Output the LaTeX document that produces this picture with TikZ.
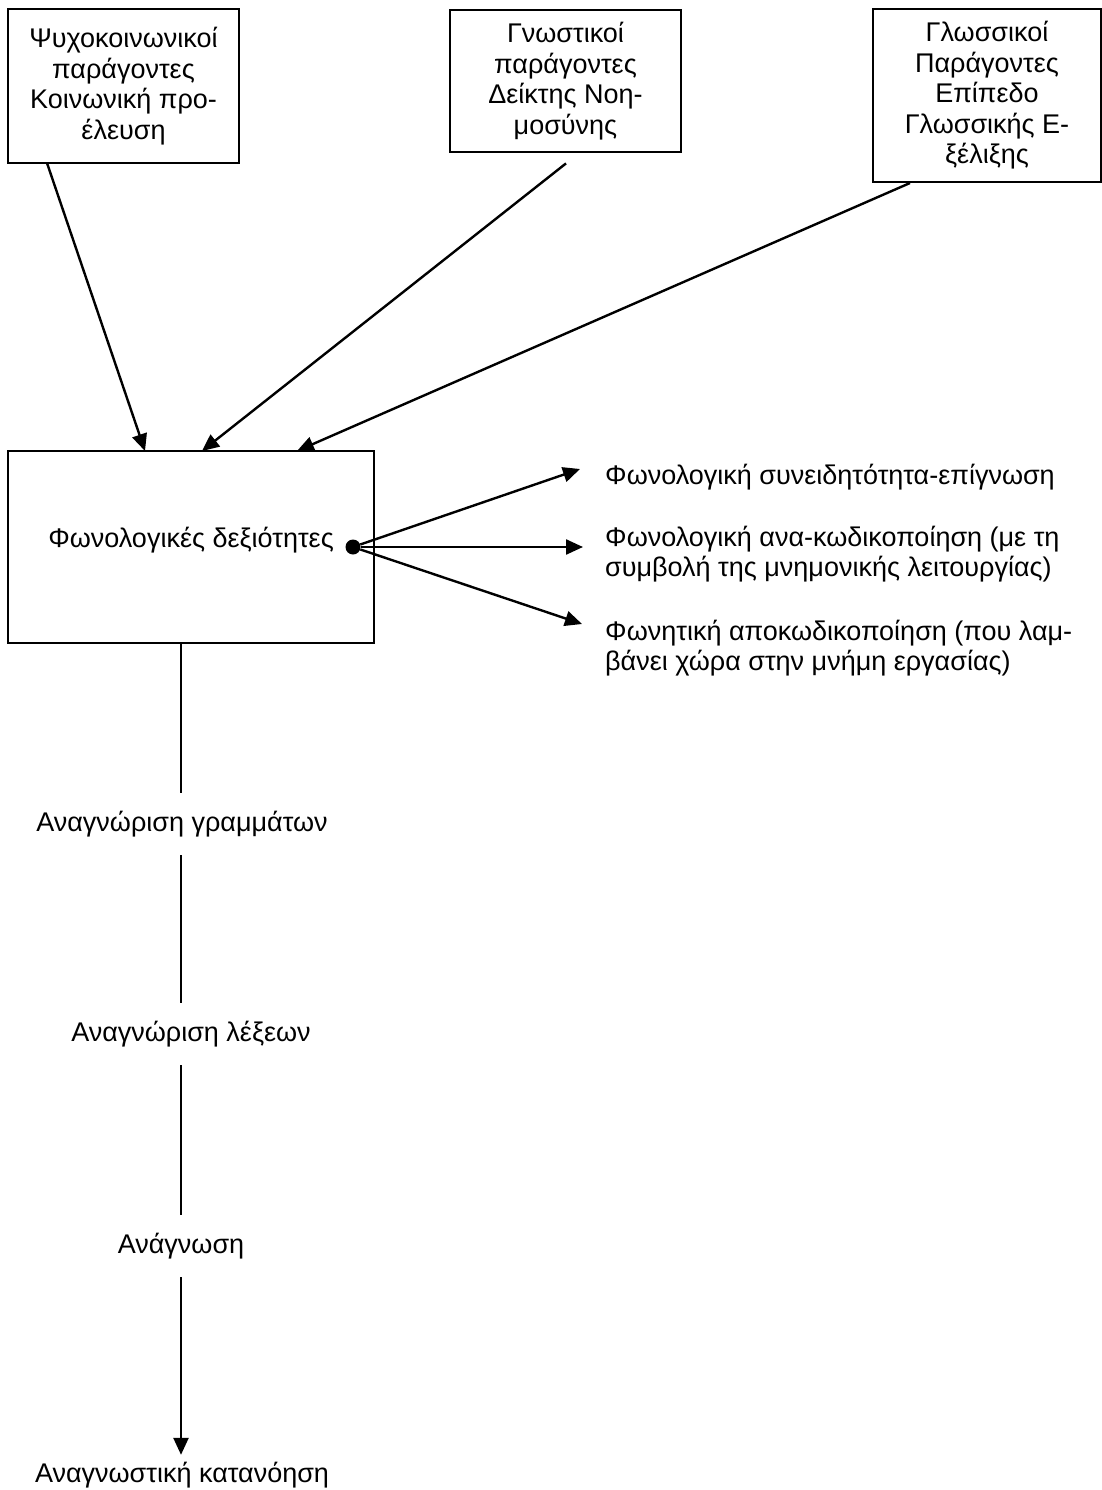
\documentclass[tikz,border=0pt]{standalone}
\usepackage{fontspec}
\setmainfont{Liberation Sans}
\usetikzlibrary{arrows.meta}

\tikzset{
  factor/.style={draw, line width=2.8pt, align=center, inner sep=0pt},
  stagelabel/.style={inner sep=0pt, minimum height=62pt},
  outcome/.style={anchor=west, align=left, inner sep=0pt},
  flow/.style={line width=2.4pt, -{Triangle[length=17pt,width=15pt]}},
}

\begin{document}
\begin{tikzpicture}[x=1pt, y=-1pt, font=\fontsize{27}{30.5}\selectfont]
  \useasboundingbox (0,0) rectangle (1101,1490);
  % factors on top
  \node[factor, minimum width=231, minimum height=154] (psy) at (123.5,86)
    {Ψυχοκοινωνικοί\\παράγοντες\\Κοινωνική προ-\\έλευση};
  \node[factor, minimum width=231, minimum height=142] (cog) at (565.5,81)
    {Γνωστικοί\\παράγοντες\\Δείκτης Νοη-\\μοσύνης};
  \node[factor, minimum width=228, minimum height=173] (lang) at (987,95.5)
    {Γλωσσικοί\\Παράγοντες\\Επίπεδο\\Γλωσσικής Ε-\\ξέλιξης};
  % central box
  \node[factor, minimum width=366, minimum height=192, text depth=19pt] (phon) at (191,547)
    {Φωνολογικές δεξιότητες};
  \node[circle, fill, inner sep=0pt, minimum size=15] (dot) at (353,547) {};
  % outcomes
  \node[outcome] (aware) at (605,477) {Φωνολογική συνειδητότητα-επίγνωση};
  \node[outcome] (recode) at (605,554) {Φωνολογική ανα-κωδικοποίηση (με τη\\συμβολή της μνημονικής λειτουργίας)};
  \node[outcome] (decode) at (605,648) {Φωνητική αποκωδικοποίηση (που λαμ-\\βάνει χώρα στην μνήμη εργασίας)};
  \coordinate (aware-in) at (580,469);
  \coordinate (recode-in) at (583,547);
  \coordinate (decode-in) at (582,624);
  % reading chain
  \node[stagelabel] (letters) at (182,824) {Αναγνώριση γραμμάτων};
  \node[stagelabel] (words) at (191,1034) {Αναγνώριση λέξεων};
  \node[stagelabel] (reading) at (181,1246) {Ανάγνωση};
  \node[inner sep=0pt, minimum height=40] (compr) at (182,1475) {Αναγνωστική κατανόηση};

  \draw[flow] (47,163) -- (145,451);
  \draw[flow] (cog.south) ++(0.5,10) -- (202,451);
  \draw[flow] (910,183) -- (297,451);
  \draw[flow] (dot) -- (aware-in);
  \draw[flow] (dot) -- (recode-in);
  \draw[flow] (dot) -- (decode-in);

  \draw[line width=2.4pt] (phon.south -| 181,0) -- (letters.north -| 181,0);
  \draw[line width=2.4pt] (letters.south -| 181,0) -- (words.north -| 181,0);
  \draw[line width=2.4pt] (words.south -| 181,0) -- (reading.north -| 181,0);
  \draw[flow] (reading.south -| 181,0) -- (compr.north -| 181,0);
\end{tikzpicture}
\end{document}
